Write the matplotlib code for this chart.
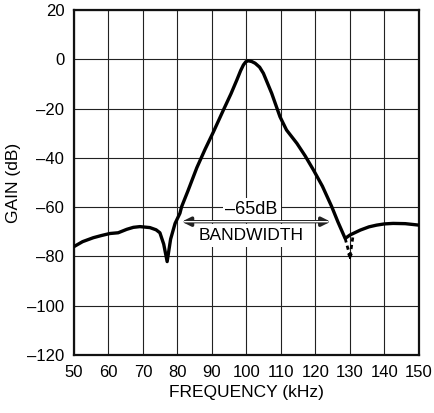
import matplotlib.pyplot as plt
from matplotlib import font_manager

# response (kHz, dB)
freq = [50, 52.5, 55.6, 58, 60.4, 62.8, 65.3, 67.2, 69.1, 72, 73.8, 74.9,
        76, 77, 78, 79.3, 80.7, 81.2, 83, 85.6, 88, 90.4, 93.3, 95.5, 97.2,
        98.3, 99.1, 99.8, 100.5, 101.5, 102.5, 103.8, 104.9, 107.3, 109.7,
        111.6, 114.6, 117, 119.4, 122, 124.7, 126.5, 128.6, 130, 131.5,
        133, 135.5, 137.7, 140, 142.5, 146, 150]
gain = [-76, -74, -72.4, -71.5, -70.7, -70.4, -69, -68.2, -67.9, -68.3,
        -69.2, -70.4, -75, -82.1, -73, -66.6, -62.5, -59.8, -53.5, -44,
        -36.5, -29.5, -20.6, -14, -8.4, -4.6, -2.3, -1, -0.6, -0.9, -1.6,
        -3.2, -5.7, -13.8, -23.3, -28.7, -34.1, -39.2, -44.9, -51.5, -59.8,
        -66, -72.7, -71.3, -70.3, -69.3, -68, -67.3, -66.8, -66.6, -66.7, -67.3]

# dotted notch near 130 kHz
notch_f = [128.6, 130, 130.9]
notch_g = [-72.7, -80, -71.5]

xticks = list(range(50, 151, 10))
yticks = list(range(-120, 21, 20))

names = {f.name for f in font_manager.fontManager.ttflist}
family = "Liberation Sans Narrow" if "Liberation Sans Narrow" in names else "Liberation Sans"
plt.rcParams["font.family"] = family
plt.rcParams["font.size"] = 11

fig = plt.figure(figsize=(4.35, 4.13), dpi=100)
ax = fig.add_axes([74 / 435, 1 - 355 / 413, 345 / 435, 345 / 413])

ax.set_xlim(50, 150)
ax.set_ylim(-120, 20)
ax.set_xticks(xticks)
ax.set_yticks(yticks)
ax.set_yticklabels([str(t).replace("-", "\u2013") for t in yticks])
ax.tick_params(length=0, pad=7, labelsize=12)
ax.grid(True, color="#222222", linewidth=0.8)
for s in ax.spines.values():
    s.set_linewidth(1.6)
    s.set_color("#111111")

ax.plot(freq, gain, color="black", linewidth=2.4, zorder=4,
        solid_joinstyle="round", solid_capstyle="round")

# dashed notch with arrow tip
ax.plot(notch_f[:2], notch_g[:2], color="black", linewidth=2.0, linestyle=(0, (1.5, 1.2)), zorder=4)
ax.plot(notch_f[1:], notch_g[1:], color="black", linewidth=2.0, linestyle=(0, (1.5, 1.2)), zorder=4)
ax.annotate("", xy=(130, -82.5), xytext=(130, -79),
            arrowprops=dict(arrowstyle="-|>", color="black", lw=1, mutation_scale=7), zorder=4)

ax.text(101.5, -61, "\u201365dB", ha="center", va="center", fontsize=13, zorder=3,
        bbox=dict(facecolor="white", edgecolor="none", pad=2))
ax.text(101.2, -71.5, "BANDWIDTH", ha="center", va="center", fontsize=12.5, zorder=3,
        bbox=dict(facecolor="white", edgecolor="none", pad=3))

# hollow double-headed arrow
ax.annotate("", xy=(80.4, -65.9), xytext=(125.2, -65.9),
            arrowprops=dict(arrowstyle="<|-|>", color="#222222", lw=2.4, mutation_scale=13), zorder=3)
ax.annotate("", xy=(81.2, -65.9), xytext=(124.4, -65.9),
            arrowprops=dict(arrowstyle="-", color="white", lw=1.0), zorder=3)

ax.set_xlabel("FREQUENCY (kHz)", fontsize=12.5, labelpad=4)
ax.set_ylabel("GAIN (dB)", fontsize=12.5, labelpad=4)

fig.savefig("out.png", dpi=100)
